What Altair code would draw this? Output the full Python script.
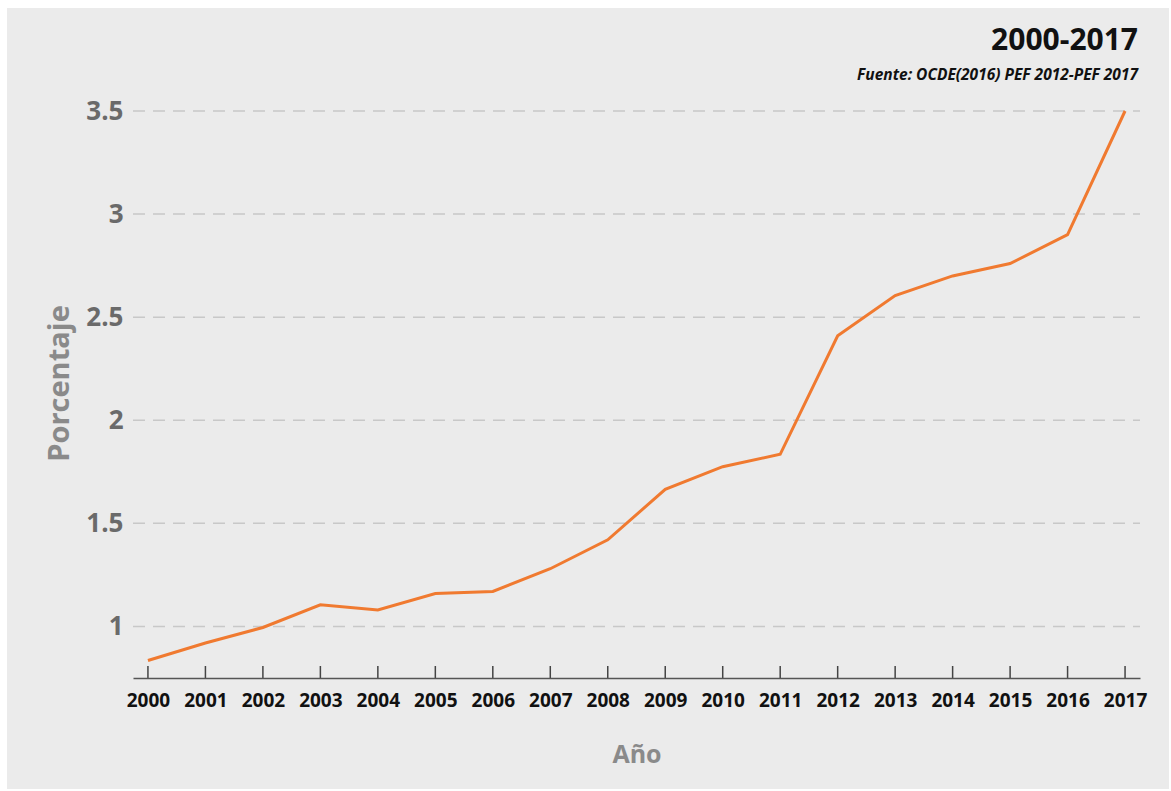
import altair as alt
import pandas as pd

years = [str(y) for y in range(2000, 2018)]
values = [0.835, 0.92, 0.995, 1.105, 1.08, 1.16, 1.17, 1.28, 1.42, 1.665,
          1.775, 1.835, 2.41, 2.605, 2.70, 2.76, 2.90, 3.50]
y_ticks = [1, 1.5, 2, 2.5, 3, 3.5]
title_text = "2000-2017"
source_text = "Fuente: OCDE(2016) PEF 2012-PEF 2017"

df = pd.DataFrame({"year": years, "value": values})
grid_df = pd.DataFrame({"v": y_ticks})

FONT = "Open Sans"
W, H = 1007, 567

xscale = alt.Scale(type="point", padding=0.26)
yscale = alt.Scale(domain=[0.75, 3.5], nice=False, zero=False)

bg = alt.Chart(pd.DataFrame({"a": [0]})).mark_rect(color="#ebebeb").encode(
    x=alt.value(-126), x2=alt.value(1036), y=alt.value(-103), y2=alt.value(678)
)

grid = alt.Chart(grid_df).mark_rule(color="#c8c8c8", strokeWidth=1.5,
                                    strokeDash=[12, 8]).encode(
    y=alt.Y("v:Q", scale=yscale), x=alt.value(0), x2=alt.value(W)
)

line = alt.Chart(df).mark_line(color="#f07a30", strokeWidth=3).encode(
    x=alt.X("year:O", scale=xscale, title="Año",
            axis=alt.Axis(labelAngle=0, labelFont=FONT, labelFontSize=19,
                          labelFontWeight="bold", labelColor="#111111",
                          labelPadding=13, tickSize=0, domainColor="#555555",
                          domainWidth=1.5, titleFont=FONT, titleFontSize=25,
                          titleFontWeight="bold", titleColor="#8a8a8a",
                          titleBaseline="alphabetic", titleY=84, grid=False,
                          zindex=1)),
    y=alt.Y("value:Q", scale=yscale, title="Porcentaje",
            axis=alt.Axis(values=y_ticks, format="~g", labelFont=FONT,
                          labelFontSize=26, labelFontWeight="bold",
                          labelColor="#6a6a6a", labelPadding=10, tickSize=0,
                          domain=False, grid=False, titleFont=FONT,
                          titleFontSize=29, titleFontWeight="bold",
                          titleColor="#8a8a8a", titleBaseline="alphabetic",
                          titleX=-65, titleY=272, titleAngle=270, zindex=1)),
)

ticks = alt.Chart(df).mark_rule(color="#444444", strokeWidth=1.5).encode(
    x=alt.X("year:O", scale=xscale),
    y=alt.value(H), y2=alt.value(H - 12),
)

title = alt.Chart(pd.DataFrame({"t": [title_text]})).mark_text(
    font=FONT, fontSize=30, fontWeight="bold", color="#111111",
    align="right", baseline="alphabetic").encode(
    x=alt.value(1005), y=alt.value(-61), text="t:N")

source = alt.Chart(pd.DataFrame({"t": [source_text]})).mark_text(
    font=FONT, fontSize=15.5, fontWeight="bold", fontStyle="italic",
    color="#111111", align="right", baseline="alphabetic").encode(
    x=alt.value(1005), y=alt.value(-31), text="t:N")

chart = alt.layer(bg, grid, line, ticks, title, source).properties(
    width=W, height=H,
    autosize=alt.AutoSizeParams(type="none"),
    padding={"left": 133, "top": 111, "right": 31, "bottom": 113},
    background="white",
).configure_view(stroke=None)

chart.save("out.html", embed_options={"renderer": "svg", "actions": False})
